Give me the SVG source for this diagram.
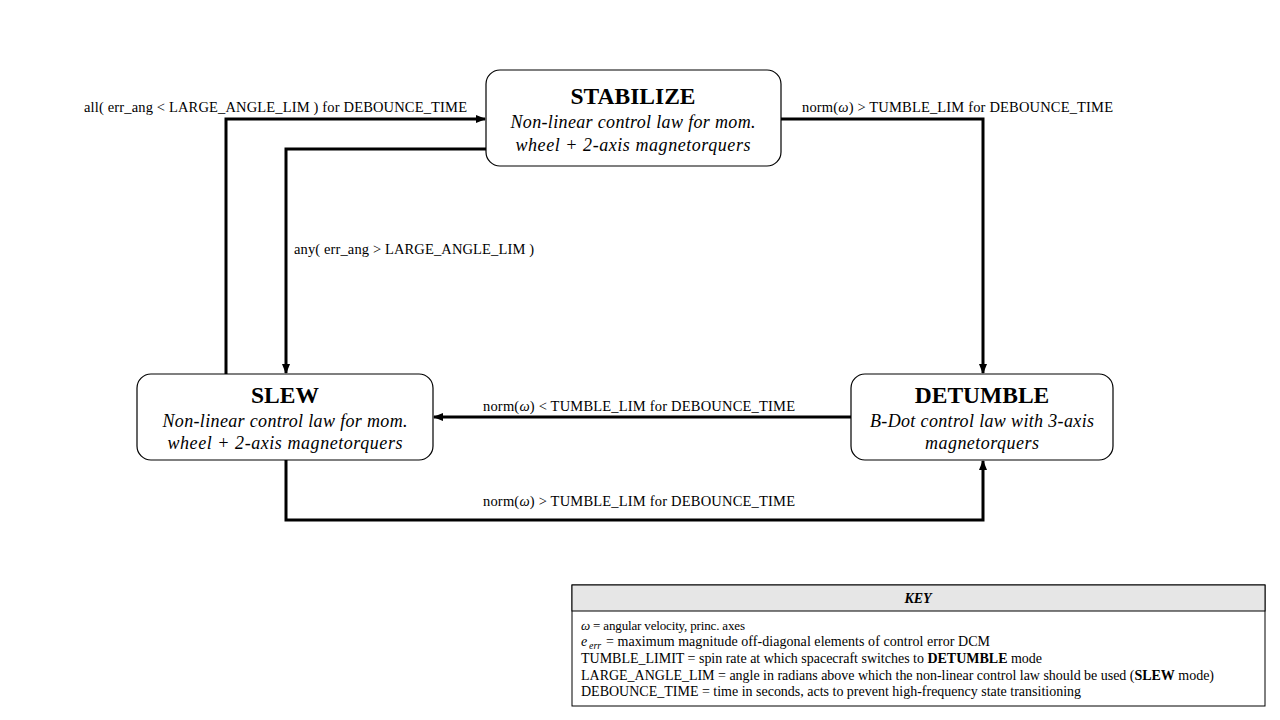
<svg xmlns="http://www.w3.org/2000/svg" width="1280" height="720" viewBox="0 0 1280 720">
<defs>
<style>
.node{fill:#fff;stroke:#000;stroke-width:1.2}
.title{font-family:"Liberation Serif",serif;font-weight:bold;font-size:23.5px;text-anchor:middle}
.sub{font-family:"Liberation Serif",serif;font-style:italic;font-size:18px;text-anchor:middle}
.lbl{font-family:"Liberation Serif",serif;font-size:14.5px}
.conn{fill:none;stroke:#000;stroke-width:3}
.key{font-family:"Liberation Serif",serif;font-size:14px}
</style>
<marker id="arr" markerWidth="10" markerHeight="8" refX="9" refY="4" orient="auto" markerUnits="userSpaceOnUse">
<path d="M0,0 L10,4 L0,8 Z" fill="#000"/>
</marker>
</defs>
<rect width="1280" height="720" fill="#fff"/>
<g id="connectors">
<path class="conn" d="M226,374 V119 H485" marker-end="url(#arr)"/>
<path class="conn" d="M486,149 H286 V373" marker-end="url(#arr)"/>
<path class="conn" d="M781,119 H983 V373" marker-end="url(#arr)"/>
<path class="conn" d="M851,417 H434" marker-end="url(#arr)"/>
<path class="conn" d="M286,460 V520 H983 V461" marker-end="url(#arr)"/>
<text class="lbl" x="84" y="112" textLength="383" lengthAdjust="spacing">all( err_ang &lt; LARGE_ANGLE_LIM ) for DEBOUNCE_TIME</text>
<text class="lbl" x="802" y="112" textLength="311" lengthAdjust="spacing">norm(<tspan font-style="italic">ω</tspan>) &gt; TUMBLE_LIM for DEBOUNCE_TIME</text>
<text class="lbl" x="294" y="254" textLength="240" lengthAdjust="spacing">any( err_ang &gt; LARGE_ANGLE_LIM )</text>
<text class="lbl" x="483" y="411" textLength="312" lengthAdjust="spacing">norm(<tspan font-style="italic">ω</tspan>) &lt; TUMBLE_LIM for DEBOUNCE_TIME</text>
<text class="lbl" x="483" y="506" textLength="312" lengthAdjust="spacing">norm(<tspan font-style="italic">ω</tspan>) &gt; TUMBLE_LIM for DEBOUNCE_TIME</text>
</g>
<g id="stabilize">
<rect class="node" x="486" y="70" width="295" height="96" rx="14"/>
<text class="title" x="633" y="104">STABILIZE</text>
<text class="sub" x="633" y="128" textLength="245" lengthAdjust="spacing">Non-linear control law for mom.</text>
<text class="sub" x="633" y="151" textLength="235" lengthAdjust="spacing">wheel + 2-axis magnetorquers</text>
</g>
<g id="slew">
<rect class="node" x="137" y="374" width="296" height="86" rx="14"/>
<text class="title" x="285" y="403">SLEW</text>
<text class="sub" x="285" y="427" textLength="245" lengthAdjust="spacing">Non-linear control law for mom.</text>
<text class="sub" x="285" y="449" textLength="235" lengthAdjust="spacing">wheel + 2-axis magnetorquers</text>
</g>
<g id="detumble">
<rect class="node" x="851" y="374" width="262" height="86" rx="14"/>
<text class="title" x="982" y="403">DETUMBLE</text>
<text class="sub" x="982" y="427" textLength="224" lengthAdjust="spacing">B-Dot control law with 3-axis</text>
<text class="sub" x="982" y="449" textLength="114" lengthAdjust="spacing">magnetorquers</text>
</g>
<g id="key">
<rect x="572" y="585" width="693" height="121" fill="#fff" stroke="#000" stroke-width="1"/>
<rect x="572" y="585" width="693" height="26" fill="#e6e6e6" stroke="#000" stroke-width="1"/>
<text x="918" y="603" font-family="Liberation Serif,serif" font-size="14" font-weight="bold" font-style="italic" text-anchor="middle">KEY</text>
<text class="key" x="581" y="630" style="font-size:13px" textLength="164" lengthAdjust="spacing"><tspan font-style="italic">ω</tspan> = angular velocity, princ. axes</text>
<text class="key" x="581" y="646" font-style="italic">e</text>
<text class="key" x="589" y="649" style="font-size:10px;font-style:italic">err</text>
<text class="key" x="606" y="646" textLength="384" lengthAdjust="spacing">= maximum magnitude off-diagonal elements of control error DCM</text>
<text class="key" x="581" y="663" textLength="461" lengthAdjust="spacing">TUMBLE_LIMIT = spin rate at which spacecraft switches to <tspan font-weight="bold">DETUMBLE</tspan> mode</text>
<text class="key" x="581" y="680" textLength="633" lengthAdjust="spacing">LARGE_ANGLE_LIM = angle in radians above which the non-linear control law should be used (<tspan font-weight="bold">SLEW</tspan> mode)</text>
<text class="key" x="581" y="696" textLength="500" lengthAdjust="spacing">DEBOUNCE_TIME = time in seconds, acts to prevent high-frequency state transitioning</text>
</g>
</svg>
